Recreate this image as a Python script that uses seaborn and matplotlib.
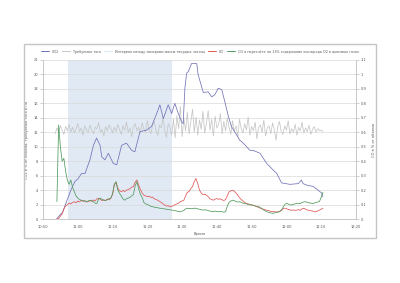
import numpy as np
import pandas as pd
import matplotlib
matplotlib.use("Agg")
import matplotlib.pyplot as plt
import matplotlib.dates as mdates
from matplotlib.patches import Rectangle
from matplotlib.lines import Line2D
from matplotlib.ticker import FuncFormatter, MultipleLocator
import seaborn as sns

# ---------------- data ----------------
start_time = "2014-01-01 10:50:00"
end_time = "2014-01-01 12:20:00"
interval_start = "2014-01-01 10:57:10"
interval_end = "2014-01-01 11:27:00"

labels = ["CO2", "Требуемая тяга", "Интервал между замерами массы твердых частиц",
          "CO", "CO в пересчёте на 13% содержание кислорода O2 в дымовых газах"]

# CO2, % (left axis): minutes after 10:50 and values
co2_minutes = [3.9, 4.9, 5.6, 6.3, 7.3, 8.2, 9.2, 10.1, 11.1, 12.1,
               12.6, 13.5, 14.5, 15.4, 16.4, 16.9, 17.8, 18.8, 20.2, 21.2,
               22.6, 24.0, 25.5, 26.4, 27.9, 29.8, 31.2, 32.7, 33.6, 34.6,
               36.0, 37.0, 37.9, 38.9, 39.9, 40.3, 40.8, 41.3, 41.8, 42.7,
               44.2, 44.6, 45.6, 46.1, 47.5, 48.5, 49.4, 50.4, 51.4, 52.3,
               53.3, 54.2, 55.7, 56.6, 57.6, 59.5, 60.4, 62.4, 64.3, 67.2,
               68.6, 71.0, 73.4, 74.3, 74.8, 75.8, 77.7, 79.1, 80.1, 80.5]
co2_values = [0.0, 0.6, 0.9, 1.8, 3.1, 4.2, 5.2, 5.6, 6.3, 6.3,
              7.0, 8.2, 10.2, 11.2, 10.2, 8.6, 8.2, 9.1, 7.7, 7.5,
              10.2, 10.5, 9.5, 9.3, 12.1, 12.3, 12.8, 14.6, 15.8, 13.9,
              15.8, 14.6, 16.0, 14.6, 13.4, 13.2, 18.1, 20.2, 20.4, 21.5,
              21.5, 20.0, 18.3, 17.5, 17.6, 16.9, 17.2, 18.1, 17.9, 16.2,
              14.2, 12.8, 11.6, 10.9, 10.5, 9.5, 9.5, 9.1, 7.7, 6.3,
              5.0, 4.8, 4.9, 5.4, 4.9, 4.7, 4.5, 4.0, 3.6, 3.1]

# Draught, Pa (left axis): sampled every 30 s from 10:53:30
draught_start_min = 3.5
draught_values = [11.8, 12.6, 12.1, 12.9, 12.3, 11.7, 12.8, 12.2, 13.1, 12.0,
                  12.7, 11.9, 12.5, 13.2, 12.1, 12.6, 11.6, 12.9, 12.4, 12.0,
                  13.0, 12.3, 11.8, 12.7, 12.5, 13.3, 12.0, 12.4, 11.5, 12.8,
                  12.2, 13.0, 12.6, 11.9, 12.7, 12.1, 13.1, 12.4, 11.7, 12.9,
                  12.3, 13.4, 12.0, 12.6, 11.4, 12.8, 13.2, 12.2, 12.7, 11.9,
                  13.3, 12.5, 12.0, 13.6, 12.4, 11.8, 12.9, 13.5, 12.2, 11.6,
                  13.0, 12.6, 14.0, 12.3, 11.3, 13.2, 12.7, 11.6, 13.8, 11.2,
                  14.3, 12.5, 15.6, 11.4, 13.9, 12.2, 14.8, 11.8, 13.4, 15.2,
                  12.0, 14.1, 11.6, 13.7, 12.4, 14.9, 11.9, 13.3, 15.0, 12.3,
                  13.8, 11.5, 14.2, 12.6, 13.1, 14.6, 11.8, 13.5, 12.2, 14.0,
                  12.7, 11.7, 13.6, 12.1, 12.9, 11.4, 13.8, 12.5, 11.9, 13.2,
                  12.3, 14.1, 11.6, 12.8, 12.2, 13.4, 11.1, 12.7, 13.0, 12.0,
                  13.7, 11.5, 12.6, 12.9, 11.8, 13.3, 12.4, 10.9, 12.8, 13.5,
                  12.1, 11.7, 12.9, 12.3, 13.6, 11.8, 12.5, 12.0, 13.1, 11.6,
                  12.7, 12.2, 13.4, 11.9, 12.6, 12.1, 13.0, 11.7, 12.4, 12.8,
                  12.0, 12.5, 12.2, 12.3, 12.1]

# CO, % (right axis): sampled every 30 s from 10:54:00
co_start_min = 4.0
co_values = [0.0, 0.005, 0.02, 0.035, 0.07, 0.09, 0.1, 0.11, 0.105, 0.115,
             0.12, 0.112, 0.125, 0.118, 0.13, 0.122, 0.127, 0.118, 0.12, 0.128,
             0.122, 0.132, 0.126, 0.14, 0.143, 0.135, 0.128, 0.133, 0.127, 0.138,
             0.132, 0.145, 0.17, 0.235, 0.255, 0.215, 0.195, 0.19, 0.198, 0.19,
             0.2, 0.203, 0.21, 0.22, 0.225, 0.255, 0.27, 0.235, 0.205, 0.18,
             0.165, 0.16, 0.155, 0.158, 0.15, 0.152, 0.14, 0.135, 0.13, 0.122,
             0.115, 0.105, 0.097, 0.09, 0.092, 0.085, 0.088, 0.093, 0.1, 0.105,
             0.11, 0.12, 0.125, 0.13, 0.16, 0.185, 0.19, 0.21, 0.225, 0.26,
             0.28, 0.245, 0.2, 0.18, 0.168, 0.172, 0.165, 0.155, 0.14, 0.135,
             0.13, 0.138, 0.142, 0.136, 0.14, 0.133, 0.128, 0.135, 0.16, 0.188,
             0.195, 0.2, 0.192, 0.18, 0.165, 0.148, 0.135, 0.125, 0.115, 0.108,
             0.105, 0.1, 0.098, 0.095, 0.09, 0.085, 0.08, 0.075, 0.07, 0.068,
             0.063, 0.06, 0.058, 0.052, 0.05, 0.052, 0.048, 0.05, 0.052, 0.06,
             0.07, 0.075, 0.072, 0.066, 0.064, 0.06, 0.063, 0.06, 0.062, 0.065,
             0.06, 0.072, 0.075, 0.068, 0.063, 0.06, 0.058, 0.055, 0.05, 0.052,
             0.056, 0.062, 0.068, 0.075]

# CO corrected to 13% O2 (right axis): sampled every 30 s from 10:54:00
co13_values = [0.12, 0.65, 0.50, 0.40, 0.42, 0.33, 0.27, 0.24, 0.27, 0.22,
               0.19, 0.16, 0.145, 0.135, 0.13, 0.128, 0.124, 0.12, 0.125, 0.13,
               0.128, 0.12, 0.11, 0.108, 0.14, 0.145, 0.135, 0.13, 0.128, 0.135,
               0.14, 0.145, 0.175, 0.24, 0.258, 0.2, 0.178, 0.16, 0.14, 0.13,
               0.14, 0.145, 0.15, 0.16, 0.17, 0.23, 0.258, 0.21, 0.17, 0.15,
               0.115, 0.105, 0.1, 0.095, 0.088, 0.085, 0.082, 0.08, 0.078, 0.075,
               0.074, 0.072, 0.07, 0.068, 0.066, 0.064, 0.062, 0.06, 0.058, 0.055,
               0.052, 0.05, 0.055, 0.06, 0.07, 0.075, 0.072, 0.074, 0.073, 0.075,
               0.074, 0.07, 0.068, 0.065, 0.062, 0.064, 0.062, 0.058, 0.055, 0.052,
               0.05, 0.055, 0.052, 0.05, 0.053, 0.05, 0.048, 0.05, 0.09, 0.115,
               0.125, 0.13, 0.128, 0.12, 0.118, 0.12, 0.115, 0.11, 0.108, 0.105,
               0.1, 0.098, 0.097, 0.095, 0.09, 0.088, 0.085, 0.08, 0.07, 0.062,
               0.055, 0.05, 0.045, 0.042, 0.04, 0.042, 0.045, 0.048, 0.05, 0.06,
               0.08, 0.1, 0.108, 0.104, 0.098, 0.097, 0.102, 0.105, 0.108, 0.106,
               0.108, 0.115, 0.118, 0.12, 0.115, 0.112, 0.11, 0.108, 0.11, 0.115,
               0.118, 0.122, 0.15, 0.185]

# ---------------- build frames ----------------
base = pd.Timestamp(start_time)
sample_step = pd.Timedelta(seconds=30)
df_co2 = pd.DataFrame({"t": base + pd.to_timedelta(co2_minutes, unit="m"), "v": co2_values})
df_dr = pd.DataFrame({"t": base + pd.Timedelta(minutes=draught_start_min) + sample_step * np.arange(len(draught_values)),
                      "v": draught_values})
t_co = base + pd.Timedelta(minutes=co_start_min) + sample_step * np.arange(len(co_values))
df_co = pd.DataFrame({"t": t_co, "v": co_values})
t_co13 = base + pd.Timedelta(minutes=co_start_min) + sample_step * np.arange(len(co13_values))
df_co13 = pd.DataFrame({"t": t_co13, "v": co13_values})

# ---------------- style ----------------
sns.set_style("white")
plt.rcParams['font.family'] = ['DejaVu Sans']
FS = 2.6
LFS = 2.4
TXT = "#595959"
AXC = "#bfbfbf"
c_co2, c_dr, c_int, c_co, c_co13 = "#7272b8", "#c6c6c6", "#e0e9f4", "#e05555", "#4f9a5c"

fig = plt.figure(figsize=(4.0, 2.83), dpi=100)
fig.patch.set_facecolor("white")
ax = fig.add_axes([0.1075, 0.226, 0.7825, 0.562])
ax2 = ax.twinx()

ax.axvspan(pd.Timestamp(interval_start), pd.Timestamp(interval_end), color=c_int, lw=0, zorder=1)
sns.lineplot(data=df_dr, x="t", y="v", ax=ax, color=c_dr, linewidth=0.55, estimator=None, legend=False)
sns.lineplot(data=df_co2, x="t", y="v", ax=ax, color=c_co2, linewidth=0.55, estimator=None, legend=False)
sns.lineplot(data=df_co, x="t", y="v", ax=ax2, color=c_co, linewidth=0.55, estimator=None, legend=False)
sns.lineplot(data=df_co13, x="t", y="v", ax=ax2, color=c_co13, linewidth=0.55, estimator=None, legend=False)

ax.set_xlim(pd.Timestamp(start_time), pd.Timestamp(end_time))
ax.set_ylim(0, 22)
ax2.set_ylim(0, 1.1)
ax.yaxis.set_major_locator(MultipleLocator(2))
ax2.yaxis.set_major_locator(MultipleLocator(0.1))
ax2.yaxis.set_major_formatter(FuncFormatter(lambda v, p: ("%g" % round(v, 1)).replace(".", ",")))
ax.xaxis.set_major_locator(mdates.MinuteLocator(byminute=range(0, 60, 10)))
ax.xaxis.set_minor_locator(mdates.MinuteLocator())
ax.xaxis.set_major_formatter(mdates.DateFormatter("%H:%M"))

ax.set_axisbelow("line")
ax.grid(axis="y", color="#d9d9d9", lw=0.5)
ax.grid(axis="x", visible=False)
ax2.grid(False)

for a in (ax, ax2):
    for s in a.spines.values():
        s.set_color(AXC)
        s.set_linewidth(0.6)
    a.spines["top"].set_visible(False)
ax.spines["right"].set_visible(False)
ax2.spines["left"].set_visible(False)
ax2.spines["bottom"].set_visible(False)

ax.tick_params(axis="both", which="both", labelsize=FS, colors=AXC, labelcolor=TXT, width=0.5)
ax.tick_params(axis="x", which="major", length=2.5, pad=1.5)
ax.tick_params(axis="x", which="minor", length=1.2)
ax.tick_params(axis="y", length=2, pad=1.5)
ax2.tick_params(axis="y", labelsize=FS, colors=AXC, labelcolor=TXT, width=0.5, length=2, pad=1.5)

ax.set_xlabel("Время", fontsize=FS, color=TXT, labelpad=2.5)
ax.set_ylabel("CO2 в % от объема, требуемая тяга в Па", fontsize=FS, color=TXT, labelpad=3)
ax2.set_ylabel("CO в % от объема", fontsize=FS, color=TXT, labelpad=4)

handles = [Line2D([], [], color=c_co2, lw=0.7), Line2D([], [], color=c_dr, lw=0.7),
           Line2D([], [], color=c_int, lw=0.9), Line2D([], [], color=c_co, lw=0.7),
           Line2D([], [], color=c_co13, lw=0.7)]
fig.legend(handles, labels, loc="center", bbox_to_anchor=(0.5, 0.818), ncol=5, frameon=False,
           fontsize=LFS, handlelength=2.4, columnspacing=1.0, handletextpad=0.8, labelcolor=TXT)

fig.add_artist(Rectangle((0.06, 0.159), 0.88, 0.686, transform=fig.transFigure,
                         fill=False, edgecolor="#c4c4c4", linewidth=1.0))

fig.savefig("out.png", dpi=100, facecolor="white")
